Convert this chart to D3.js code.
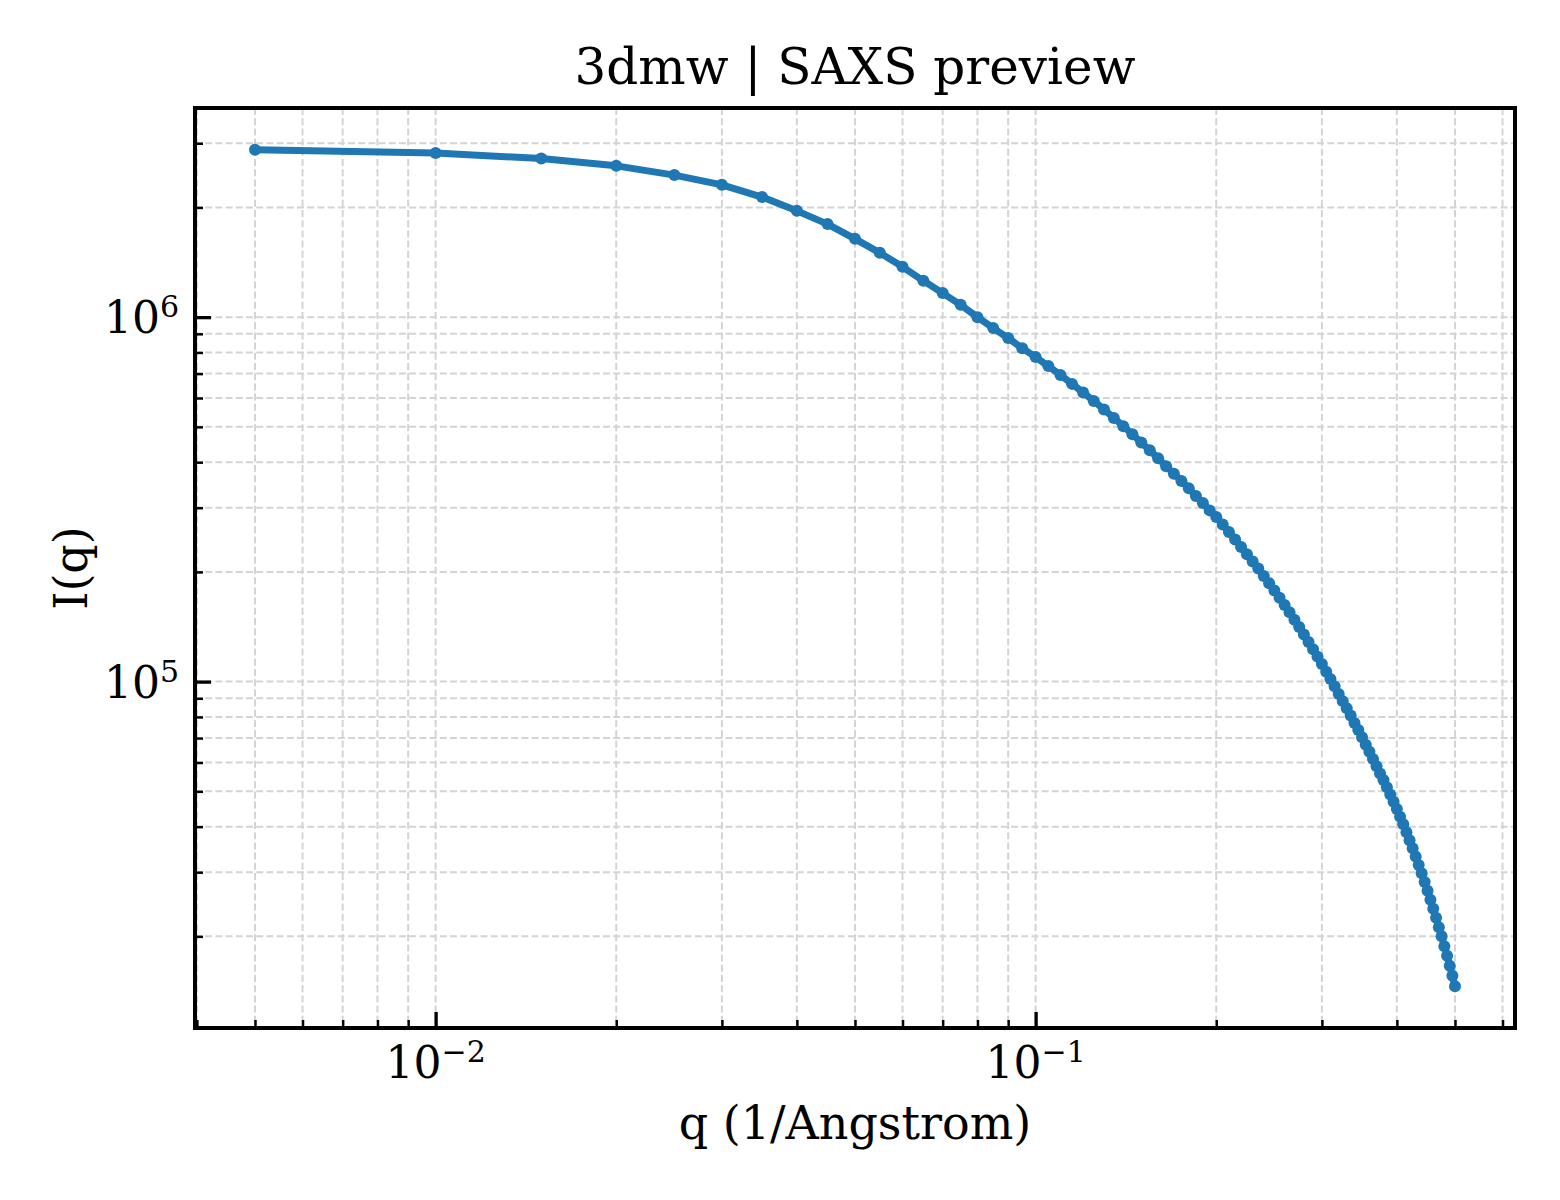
<!DOCTYPE html>
<html>
<head>
<meta charset="utf-8">
<title>3dmw | SAXS preview</title>
<script src="https://d3js.org/d3.v7.min.js"></script>
<style>
  body { margin: 0; background: #fff; }
  text { font-family: "DejaVu Serif", serif; fill: #000; }
</style>
</head>
<body>
<div id="chart"></div>
<script>
'use strict';

// scattering vector q (1/Angstrom)
var qValues = [
    0.005, 0.010, 0.015, 0.020, 0.025, 0.030, 0.035, 0.040, 0.045, 0.050,
    0.055, 0.060, 0.065, 0.070, 0.075, 0.080, 0.085, 0.090, 0.095, 0.100,
    0.105, 0.110, 0.115, 0.120, 0.125, 0.130, 0.135, 0.140, 0.145, 0.150,
    0.155, 0.160, 0.165, 0.170, 0.175, 0.180, 0.185, 0.190, 0.195, 0.200,
    0.205, 0.210, 0.215, 0.220, 0.225, 0.230, 0.235, 0.240, 0.245, 0.250,
    0.255, 0.260, 0.265, 0.270, 0.275, 0.280, 0.285, 0.290, 0.295, 0.300,
    0.305, 0.310, 0.315, 0.320, 0.325, 0.330, 0.335, 0.340, 0.345, 0.350,
    0.355, 0.360, 0.365, 0.370, 0.375, 0.380, 0.385, 0.390, 0.395, 0.400,
    0.405, 0.410, 0.415, 0.420, 0.425, 0.430, 0.435, 0.440, 0.445, 0.450,
    0.455, 0.460, 0.465, 0.470, 0.475, 0.480, 0.485, 0.490, 0.495, 0.500
];

// I(q)
var intensity = [
    2878000, 2819000, 2724000, 2601000, 2453000, 2307000, 2135000, 1957000, 1800000, 1640000,
    1501000, 1374000, 1258000, 1164000, 1081000, 1000000, 933000, 876000, 822000, 777000,
    734000, 694000, 656000, 621000, 589000, 558000, 529000, 502000, 477000, 453000,
    431000, 410000, 390000, 372000, 355000, 339000, 323000, 309000, 295000, 283000,
    270000, 257500, 245600, 234200, 223700, 213700, 204200, 195000, 186200, 177900,
    169900, 162200, 154900, 147900, 141100, 134700, 128500, 122700, 117100, 111800,
    106500, 101700, 97100, 92500, 88400, 84500, 80700, 77000, 73700, 70400,
    67100, 64200, 61300, 58600, 56000, 53700, 51300, 49000, 46800, 44700,
    42600, 40600, 38600, 36700, 34900, 33100, 31400, 29800, 28200, 26700,
    25200, 23800, 22500, 21200, 20000, 18800, 17700, 16600, 15600, 14600
];

var xMajor = [0.01, 0.1];
var xExp = ["\u22122", "\u22121"];
var yMajor = [1e5, 1e6];
var yExp = ["5", "6"];

var title = "3dmw | SAXS preview";
var xTitle = "q (1/Angstrom)";
var yTitle = "I(q)";

var W = 1560, H = 1200;
var plotL = 195, plotR = 1515, plotT = 108, plotB = 1028;
var blue = "#1f77b4";

// log limits with 5% padding, the way matplotlib autoscales
function padded(vals) {
    var lo = Math.log10(d3.min(vals)), hi = Math.log10(d3.max(vals));
    var m = (hi - lo) * 0.05;
    return [Math.pow(10, lo - m), Math.pow(10, hi + m)];
}

var x = d3.scaleLog().domain(padded(qValues)).range([plotL, plotR]);
var y = d3.scaleLog().domain(padded(intensity)).range([plotB, plotT]);

var svg = d3.select("#chart").append("svg")
    .attr("width", W)
    .attr("height", H);

svg.append("rect").attr("width", W).attr("height", H).attr("fill", "#fff");

var xTicks = x.ticks();
var yTicks = y.ticks();

// dashed grid on every major and minor tick
svg.append("g").selectAll("line").data(xTicks).enter().append("line")
    .attr("x1", function(d) { return x(d); })
    .attr("x2", function(d) { return x(d); })
    .attr("y1", plotT).attr("y2", plotB)
    .attr("stroke", "#d4d4d4").attr("stroke-width", 2)
    .attr("stroke-dasharray", "7,3.2");

svg.append("g").selectAll("line").data(yTicks).enter().append("line")
    .attr("y1", function(d) { return y(d); })
    .attr("y2", function(d) { return y(d); })
    .attr("x1", plotL).attr("x2", plotR)
    .attr("stroke", "#d4d4d4").attr("stroke-width", 2)
    .attr("stroke-dasharray", "7,3.2");

// inward ticks, bottom and left only
function isMajor(list) {
    return function(d) {
        return list.some(function(m) { return Math.abs(m - d) / m < 1e-6; });
    };
}
var xMinor = xTicks.filter(function(d) { return !isMajor(xMajor)(d); });
var yMinor = yTicks.filter(function(d) { return !isMajor(yMajor)(d); });

function tickAxis(axis, vals, size, width, tr) {
    var g = svg.append("g")
        .attr("transform", tr)
        .call(axis.tickValues(vals).tickSize(-size).tickSizeOuter(0).tickFormat(""));
    g.select(".domain").remove();
    g.selectAll(".tick line").attr("stroke", "#000").attr("stroke-width", width);
}

tickAxis(d3.axisBottom(x), xMinor, 8, 2.5, "translate(0," + plotB + ")");
tickAxis(d3.axisBottom(x), xMajor, 16, 3.3, "translate(0," + plotB + ")");
tickAxis(d3.axisLeft(y), yMinor, 8, 2.5, "translate(" + plotL + ",0)");
tickAxis(d3.axisLeft(y), yMajor, 16, 3.3, "translate(" + plotL + ",0)");

// 10^n labels
svg.append("g").selectAll("text").data(xMajor).enter().append("text")
    .attr("x", function(d) { return x(d); })
    .attr("y", plotB + 50)
    .attr("text-anchor", "middle")
    .attr("font-size", 44)
    .each(function(d, i) {
        var t = d3.select(this);
        t.append("tspan").text("10");
        t.append("tspan").attr("dy", -16).attr("font-size", 30).text(xExp[i]);
    });

svg.append("g").selectAll("text").data(yMajor).enter().append("text")
    .attr("x", plotL - 16)
    .attr("y", function(d) { return y(d) + 16; })
    .attr("text-anchor", "end")
    .attr("font-size", 44)
    .each(function(d, i) {
        var t = d3.select(this);
        t.append("tspan").text("10");
        t.append("tspan").attr("dy", -16).attr("font-size", 30).text(yExp[i]);
    });

// the curve
var pts = qValues.map(function(q, i) { return [q, intensity[i]]; });

svg.append("path")
    .datum(pts)
    .attr("fill", "none")
    .attr("stroke", blue)
    .attr("stroke-width", 7)
    .attr("stroke-linejoin", "round")
    .attr("stroke-linecap", "round")
    .attr("d", d3.line()
        .x(function(d) { return x(d[0]); })
        .y(function(d) { return y(d[1]); }));

svg.append("g").selectAll("circle").data(pts).enter().append("circle")
    .attr("cx", function(d) { return x(d[0]); })
    .attr("cy", function(d) { return y(d[1]); })
    .attr("r", 6)
    .attr("fill", blue);

// frame
svg.append("rect")
    .attr("x", plotL).attr("y", plotT)
    .attr("width", plotR - plotL).attr("height", plotB - plotT)
    .attr("fill", "none").attr("stroke", "#000").attr("stroke-width", 4);

svg.append("text")
    .attr("x", (plotL + plotR) / 2).attr("y", 84)
    .attr("text-anchor", "middle").attr("font-size", 50)
    .text(title);

svg.append("text")
    .attr("x", (plotL + plotR) / 2).attr("y", 1139)
    .attr("text-anchor", "middle").attr("font-size", 46)
    .text(xTitle);

svg.append("text")
    .attr("transform", "translate(87," + (plotT + plotB) / 2 + ") rotate(-90)")
    .attr("text-anchor", "middle").attr("font-size", 46)
    .text(yTitle);
</script>
</body>
</html>
